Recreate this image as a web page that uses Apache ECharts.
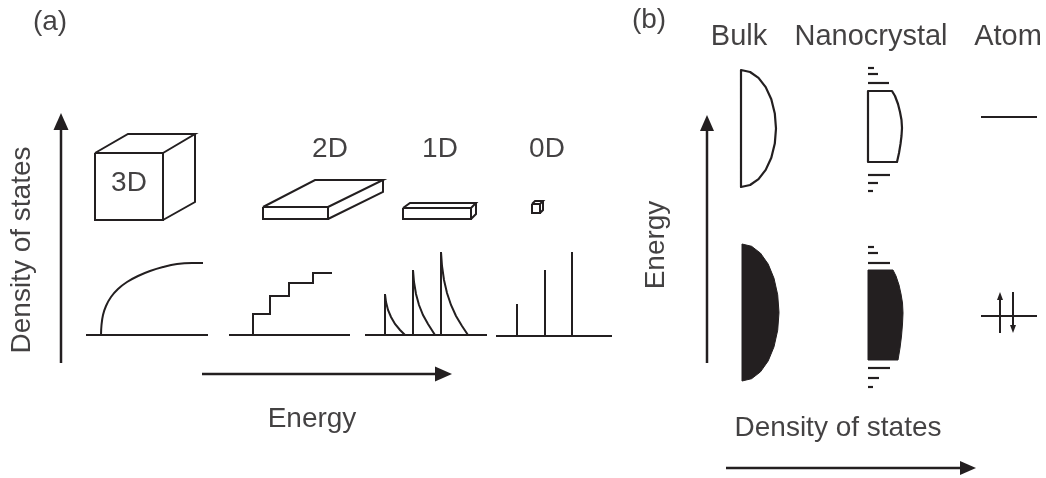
<!DOCTYPE html>
<html><head><meta charset="utf-8">
<script src="https://cdn.jsdelivr.net/npm/echarts@6/dist/echarts.min.js"></script>
<style>html,body{margin:0;padding:0;background:#fff}#c{width:1046px;height:478px}</style>
</head><body><div id="c"></div>
<script>
// ---------- schematic data (drawing units = canvas units of the reference) ----------
// Panel (a): axes arrows
const axisArrowsA = [[[61, 363], [61, 113]], [[202, 374], [452, 374]]];
// Panel (b): axes arrows
const axisArrowsB = [[[707, 363], [707, 115]], [[726, 468], [976, 468]]];

// 3D cube
const cubeFront = [[95,153],[163,153],[163,220],[95,220],[95,153]];
const cubeTop   = [[95,153],[128,134],[195,134],[163,153]];
const cubeSide  = [[195,134],[195,202],[163,220]];
// 2D slab
const slabFront = [[263,207],[328,207],[328,219],[263,219],[263,207]];
const slabTop   = [[263,207],[315,180],[383,180],[328,207]];
const slabSide  = [[383,180],[383,192],[328,219]];
// 1D wire
const wireFront = [[403,208],[471,208],[471,219],[403,219],[403,208]];
const wireTop   = [[403,208],[410,203],[476,203],[471,208]];
const wireSide  = [[476,203],[476,214],[471,219]];
// 0D dot
const dotFront = [[532,204],[540,204],[540,213],[532,213],[532,204]];
const dotTop   = [[532,204],[535,201],[543,201],[540,204]];
const dotSide  = [[543,201],[543,210],[540,213]];

// DOS 3D
const dos3dBase  = [[86,335],[208,335]];
const dos3dCurve = [[101,335],[101.5,325],[103,315],[106,306],[111,297],[118,289],[127,282],[138,276],[150,271],[163,267],[177,264],[192,263],[203,263]];
// DOS 2D
const dos2dBase  = [[229,335],[350,335]];
const dos2dSteps = [[253,335],[253,314],[270,314],[270,296],[289,296],[289,283],[313,283],[313,273],[332,273]];
// DOS 1D
const dos1dBase  = [[365,335],[487,335]];
const dos1dPeak1 = [[385,335],[385,294],[386,302],[388,310],[391,317],[395,324],[400,330],[405,335]];
const dos1dPeak2 = [[413,335],[413,270],[414,282],[416,294],[419,305],[423,315],[428,324],[435,335]];
const dos1dPeak3 = [[441,335],[441,252],[442,266],[444,280],[447,293],[451,305],[456,316],[462,326],[468,335]];
// DOS 0D
const dos0dBase  = [[496,336],[612,336]];
const dos0dLine1 = [[517,336],[517,304]];
const dos0dLine2 = [[545,336],[545,270]];
const dos0dLine3 = [[572,336],[572,252]];

// Panel (b): bulk bands
const bulkUpper = [[741,187],[741,70],[750.1,72],[758.5,77.8],[765.7,87.1],[771.3,99.3],[774.8,113.4],[776,128.5],
  [774.8,143.6],[771.3,157.8],[765.7,169.9],[758.5,179.2],[750.1,185],[741,187]];
const bulkLower = [[742,381],[742,244],[751.6,246.3],[760.5,253.2],[768.2,264.1],[774,278.3],[777.7,294.8],[779,312.5],
  [777.7,330.2],[774,346.8],[768.2,360.9],[760.5,371.8],[751.6,378.7],[742,381]];
// nanocrystal bands
const nanoUpper = [[868,162],[868,91],[892,91],[895,96],[898,104],[900,112],[901.5,120],[902,128],[901.5,136],
  [900.5,144],[899,153],[897,162],[868,162]];
const nanoLower = [[868,360],[868,270],[893,270],[896,276],[899,285],[901,294],[902.5,303],[903,313],[902.5,324],
  [901.5,336],[900,348],[898,360],[868,360]];
const nanoLevels = [
  [[868,68],[874,68]], [[868,74],[878,74]], [[868,83],[889,83]],
  [[868,175],[890,175]], [[868,183],[878,183]], [[868,191],[873,191]],
  [[868,247],[874,247]], [[868,253],[878,253]], [[868,263],[890,263]],
  [[868,368],[890,368]], [[868,378],[879,378]], [[868,387],[873,387]]
];
// atom levels and spins
const atomLevels = [[[981,117],[1037,117]], [[981,316],[1037,316]]];
const spinArrows = [[[1000,333],[1000,292]], [[1013,292],[1013,333]]];

// Text labels
const panelLabels = ['(a)', '(b)'];
const dimLabels = ['3D', '2D', '1D', '0D'];
const sizeLabels = ['Bulk', 'Nanocrystal', 'Atom'];
const axisTitlesA = ['Density of states', 'Energy'];
const axisTitlesB = ['Energy', 'Density of states'];

// ---------- styling / layout ----------
const INK = '#231f20';
const TEXT_INK = '#141213';
const FONT = '"Liberation Sans", Arial, Helvetica, sans-serif';
const textPos = {
  panel: [[50,22],[649,20]],
  dim: [[129,183],[330,149],[440,149],[547,149]],
  size: [[739,37],[871,37],[1008,37]],
  axisA: [[22,250,90],[312,419,0]],
  axisB: [[656,245,90],[838,428,0]]
};

function lineSeries(pts, w, smooth) {
  return { type: 'line', data: pts, symbol: 'none', smooth: smooth || false, clip: false,
    silent: true, animation: false, lineStyle: { color: INK, width: w || 2, join: 'miter' } };
}
function polySeries(pts, fill, w) {
  return { type: 'custom', data: pts, clip: false, silent: true, animation: false,
    renderItem: function (params, api) {
      if (params.dataIndex !== 0) return null;
      const p = pts.map(q => api.coord(q));
      return { type: 'polygon', shape: { points: p },
        style: { fill: fill, stroke: INK, lineWidth: w, lineJoin: 'round' } };
    } };
}
function arrowSeries(arrs, headLen, headW, w) {
  return { type: 'custom', data: arrs.map(a => [a[0][0], a[0][1], a[1][0], a[1][1]]), clip: false,
    silent: true, animation: false,
    renderItem: function (params, api) {
      const a = api.coord([api.value(0), api.value(1)]);
      const b = api.coord([api.value(2), api.value(3)]);
      const dx = b[0] - a[0], dy = b[1] - a[1];
      const L = Math.sqrt(dx * dx + dy * dy), ux = dx / L, uy = dy / L;
      const bx = b[0] - ux * headLen, by = b[1] - uy * headLen;
      return { type: 'group', children: [
        { type: 'line', shape: { x1: a[0], y1: a[1], x2: bx + ux, y2: by + uy },
          style: { stroke: INK, lineWidth: w } },
        { type: 'polygon', shape: { points: [[b[0], b[1]],
          [bx - uy * headW / 2, by + ux * headW / 2], [bx + uy * headW / 2, by - ux * headW / 2]] },
          style: { fill: INK } }
      ] };
    } };
}

const series = [];
[cubeFront, cubeTop, cubeSide, slabFront, slabTop, slabSide, wireFront, wireTop, wireSide,
 dotFront, dotTop, dotSide].forEach(p => series.push(lineSeries(p, 2)));
[dos3dBase, dos2dBase, dos1dBase, dos0dBase, dos2dSteps, dos0dLine1, dos0dLine2, dos0dLine3]
  .forEach(p => series.push(lineSeries(p, 2)));
series.push(lineSeries(dos3dCurve, 2, 0.4));
[dos1dPeak1, dos1dPeak2, dos1dPeak3].forEach(p => series.push(lineSeries(p, 2)));
series.push(polySeries(bulkUpper, 'none', 2.2));
series.push(polySeries(bulkLower, INK, 1));
series.push(polySeries(nanoUpper, 'none', 2.2));
series.push(polySeries(nanoLower, INK, 1));
nanoLevels.forEach(p => series.push(lineSeries(p, 2.2)));
atomLevels.forEach(p => series.push(lineSeries(p, 2.2)));
series.push(arrowSeries(axisArrowsA, 17, 15, 2.5));
series.push(arrowSeries(axisArrowsB, 16, 14, 2.5));
series.push(arrowSeries(spinArrows, 8, 6, 2));

// text labels as scatter labels placed through the same axes
const labelData = [];
panelLabels.forEach((t, i) => labelData.push({ name: t, value: textPos.panel[i] }));
dimLabels.forEach((t, i) => labelData.push({ name: t, value: textPos.dim[i] }));
sizeLabels.forEach((t, i) => labelData.push({ name: t, value: textPos.size[i], label: { fontSize: 29 } }));
axisTitlesA.forEach((t, i) => labelData.push({ name: t, value: textPos.axisA[i].slice(0, 2), label: { rotate: textPos.axisA[i][2] } }));
axisTitlesB.forEach((t, i) => labelData.push({ name: t, value: textPos.axisB[i].slice(0, 2), label: { rotate: textPos.axisB[i][2] } }));
series.push({ type: 'scatter', data: labelData, symbolSize: 1, itemStyle: { color: 'rgba(0,0,0,0)' },
  silent: true, animation: false, clip: false,
  label: { show: true, position: 'inside', formatter: '{b}', color: TEXT_INK, fontSize: 28,
    fontFamily: FONT, align: 'center', verticalAlign: 'middle' } });

const chart = echarts.init(document.getElementById('c'), null, { renderer: 'canvas' });
chart.setOption({
  backgroundColor: '#ffffff',
  animation: false,
  grid: { left: 0, right: 0, top: 0, bottom: 0 },
  xAxis: { type: 'value', min: 0, max: 1046, show: false },
  yAxis: { type: 'value', min: 0, max: 478, inverse: true, show: false },
  series: series
});
</script></body></html>
